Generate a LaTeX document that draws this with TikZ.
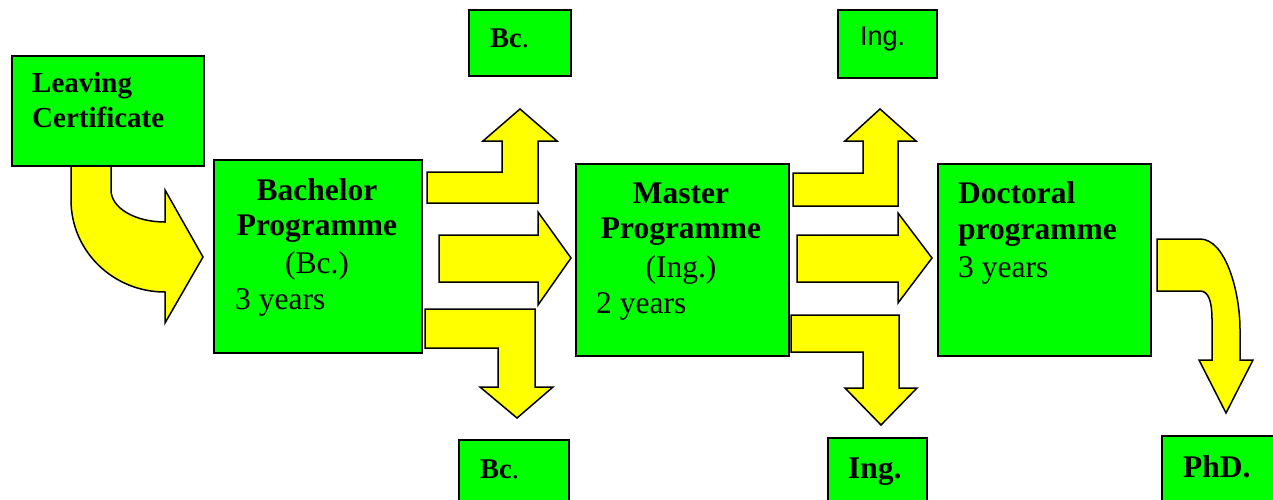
\documentclass[tikz,border=0pt]{standalone}
\usepackage{fontspec}
\setmainfont{Liberation Serif}
\newfontfamily\arialf{Liberation Sans}
\definecolor{boxgreen}{HTML}{00FF00}
\definecolor{arrowyellow}{HTML}{FFFF00}
\begin{document}
\begin{tikzpicture}[x=1pt,y=-1pt,
  box/.style={draw=black,fill=boxgreen,line width=1.6pt,anchor=north west,inner sep=0pt},
  blockarrow/.style={draw=black,fill=arrowyellow,line width=1.5pt,line join=miter},
  ttl/.style={inner sep=0pt,font=\fontsize{31.5}{36}\selectfont\bfseries},
  lbl/.style={inner sep=0pt,font=\fontsize{31.5}{36}\selectfont},
  small/.style={inner sep=0pt,font=\fontsize{28.5}{34}\selectfont\bfseries}]
\useasboundingbox (0,0) rectangle (1273,499);
\clip (0,0) rectangle (1273,499);
% block arrows
\draw[blockarrow] (71,165) -- (111,165) -- (111,190) .. controls (111,208) and (135,222) .. (165,222) -- (165,190) -- (203,257) -- (165,323) -- (165,292) .. controls (113,292) and (71,251) .. (71,200) -- cycle;
\draw[blockarrow] (427,172) -- (502,172) -- (502,141) -- (483,141) -- (520,109) -- (557,141) -- (538,141) -- (538,203) -- (427,203) -- cycle;
\draw[blockarrow] (439,235) -- (538,235) -- (538,212) -- (571,258) -- (538,305) -- (538,282) -- (439,282) -- cycle;
\draw[blockarrow] (425,309) -- (535,309) -- (535,387) -- (553,387) -- (517,418) -- (480,387) -- (498,387) -- (498,348) -- (425,348) -- cycle;
\draw[blockarrow] (793,173) -- (863,173) -- (863,141) -- (845,141) -- (880,109) -- (916,141) -- (898,141) -- (898,206) -- (793,206) -- cycle;
\draw[blockarrow] (797,235) -- (898,235) -- (898,213) -- (932,258) -- (898,303) -- (898,282) -- (797,282) -- cycle;
\draw[blockarrow] (791,315) -- (899,315) -- (899,388) -- (917,388) -- (881,425) -- (845,388) -- (863,388) -- (863,352) -- (791,352) -- cycle;
\draw[blockarrow] (1157,239) -- (1200,239) .. controls (1225,239) and (1240,290) .. (1240,330) -- (1240,360) -- (1253,360) -- (1226,413) -- (1199,360) -- (1212,360) -- (1212,320) .. controls (1212,300) and (1208,291) .. (1200,291) -- (1157,291) -- cycle;
% boxes
\node[box,minimum width=192pt,minimum height=110pt] (leave) at (11,55) {};
\node[box,minimum width=208pt,minimum height=193pt] (bach) at (213,159) {};
\node[box,minimum width=213pt,minimum height=192pt] (mast) at (575,163) {};
\node[box,minimum width=213pt,minimum height=192pt] (doct) at (937,163) {};
\node[box,minimum width=102pt,minimum height=66pt] (bctop) at (468,9) {};
\node[box,minimum width=99pt,minimum height=68pt] (ingtop) at (837,9) {};
\node[box,minimum width=110pt,minimum height=75pt] (bcbot) at (458,439) {};
\node[box,minimum width=99pt,minimum height=75pt] (ingbot) at (827,437) {};
\node[box,minimum width=125pt,minimum height=75pt] (phd) at (1161,435) {};
% texts
\node[anchor=base west,inner sep=0pt,font=\fontsize{29}{35}\selectfont\bfseries] (t1) at (32,92) {Leaving};
\node[anchor=base west,inner sep=0pt,font=\fontsize{29}{35}\selectfont\bfseries] (t2) at (32,127) {Certificate};
\node[ttl,anchor=base] (b1) at (317,200) {Bachelor};
\node[ttl,anchor=base] (b2) at (317,235) {Programme};
\node[lbl,anchor=base] (b3) at (317,273) {(Bc.)};
\node[lbl,anchor=base west] (b4) at (235,309) {3 years};
\node[ttl,anchor=base] (m1) at (681,203) {Master};
\node[ttl,anchor=base] (m2) at (681,238) {Programme};
\node[lbl,anchor=base] (m3) at (681,277) {(Ing.)};
\node[lbl,anchor=base west] (m4) at (596,313) {2 years};
\node[ttl,anchor=base west] (d1) at (958,203) {Doctoral};
\node[ttl,anchor=base west] (d2) at (958,239) {programme};
\node[lbl,anchor=base west] (d3) at (958,277) {3 years};
\node[small,anchor=base west] (s1) at (490,47) {Bc\textmd{.}};
\node[anchor=base west,inner sep=0pt,font=\arialf\fontsize{27}{32}\selectfont] (s2) at (860,45) {Ing.};
\node[small,anchor=base west] (s3) at (480,478) {Bc\textmd{.}};
\node[ttl,anchor=base west] (s4) at (848,478) {Ing.};
\node[ttl,anchor=base west] (s5) at (1183,477) {PhD.};
\end{tikzpicture}
\end{document}
